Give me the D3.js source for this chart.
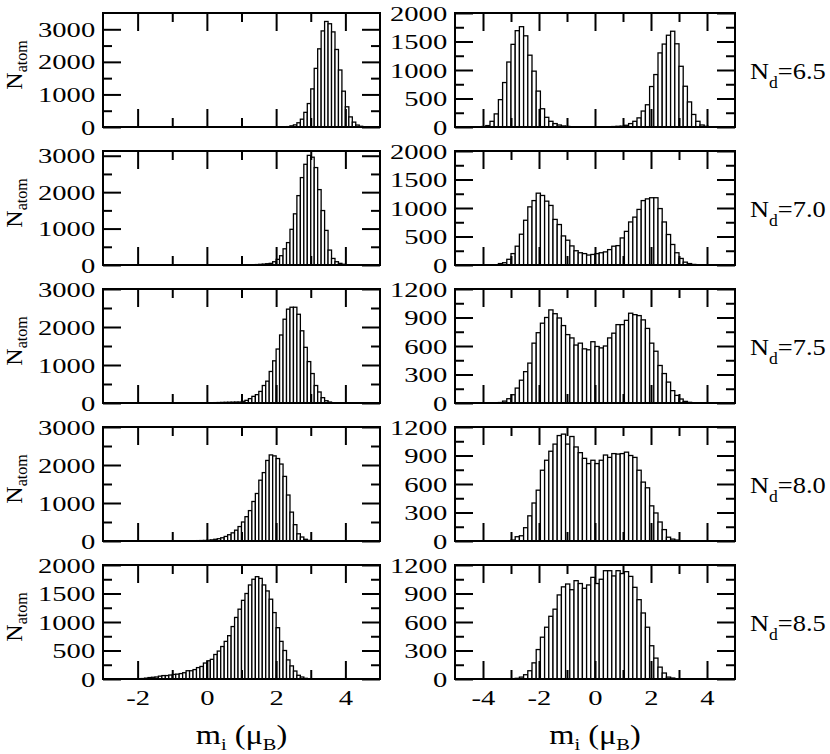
<!DOCTYPE html>
<html>
<head>
<meta charset="utf-8">
<script src="https://cdn.jsdelivr.net/npm/d3@7"></script>
<style>
  body { margin: 0; background: #fff; }
  text { font-family: "Liberation Serif", "Times New Roman", serif; }
</style>
</head>
<body>
<svg id="chart" width="830" height="754"></svg>
<script>
// N_d value of each row
var ndLabels = ["6.5", "7.0", "7.5", "8.0", "8.5"];

// left column: bin width 0.1, first bin edge of each row
var leftBin = 0.1;
var leftStart = [2.2, 1.2, -0.5, -0.5, -2.1];
var left65 = [5,12,35,65,130,240,450,720,1170,1800,2400,2950,3240,3170,2920,2380,1750,1100,620,310,150,60,22,8];
var left70 = [5,8,12,18,25,35,45,90,155,255,445,615,980,1405,1905,2400,2765,3010,2960,2675,2070,1495,950,410,180,90,45,20,8];
var left75 = [3,3,4,5,5,6,8,10,12,15,18,20,22,25,25,45,70,115,175,220,305,460,575,830,1110,1420,1790,2205,2470,2520,2520,2335,1900,1465,1090,775,460,290,140,60,25,8];
var left80 = [5,8,10,12,15,20,30,45,60,85,120,165,215,285,380,500,640,800,1040,1250,1600,1800,2120,2265,2240,2170,2025,1700,1210,760,430,190,105,45,17,5];
var left85 = [5,5,8,15,25,30,35,50,60,60,70,80,85,95,110,145,145,165,200,220,280,320,345,430,490,570,660,760,920,1080,1225,1380,1500,1650,1750,1795,1765,1650,1545,1400,1165,900,660,500,335,230,140,65,35,12];

// right column: bin width 0.15, first edge -4.5
var rightBin = 0.15;
var rightStart = -4.5;
var right65 = [0,0,0,8,25,100,230,480,780,1140,
               1450,1690,1760,1600,1260,980,630,320,170,100,
               60,35,18,10,6,4,3,2,2,2,
               2,3,4,6,8,12,15,30,60,100,
               160,280,390,710,920,1300,1455,1610,1680,1460,
               1065,715,440,220,100,35,12,4,0,0];
var right70 = [0,0,0,0,0,2,5,25,40,100,
               200,330,540,785,1020,1130,1260,1220,1120,1045,
               800,710,510,435,335,250,215,200,175,185,
               200,215,230,270,330,340,475,590,755,840,
               975,1130,1160,1180,1180,990,755,535,360,215,
               115,50,25,10,3,0,0,0,0,0];
var right75 = [0,0,0,0,0,0,0,5,20,45,
               87,157,240,330,420,630,740,840,900,980,
               940,895,815,720,685,610,630,570,560,645,
               595,580,600,685,735,825,825,870,945,930,
               920,875,785,630,545,395,310,220,130,80,
               42,17,7,0,0,0,0,0,0,0];
var right80 = [0,0,0,0,0,0,0,0,0,0,
               10,45,55,140,265,400,535,745,850,945,
               1020,1110,1125,1020,1100,990,930,870,815,850,
               815,850,905,880,920,915,920,935,900,880,
               745,620,560,370,295,200,120,40,20,10,
               0,0,0,0,0,0,0,0,0,0];
var right85 = [0,0,0,0,0,0,0,0,0,0,
               0,7,20,45,87,170,310,440,545,660,
               735,885,970,1000,940,1035,1005,955,990,1070,
               1005,1050,1140,1140,1085,1140,1110,1130,1080,965,
               835,695,545,350,220,125,63,20,10,0,
               0,0,0,0,0,0,0,0,0,0];

var leftCounts = [left65, left70, left75, left80, left85];
var rightCounts = [right65, right70, right75, right80, right85];

// axis ranges and tick steps
var leftX = [-3, 5], rightX = [-5, 5];
var leftXTicks = [-2, 0, 2, 4], leftXMinor = [-1, 1, 3];
var rightXTicks = [-4, -2, 0, 2, 4], rightXMinor = [-3, -1, 1, 3];
var leftYMax = [3500, 3130, 3000, 3000, 2000];
var leftYStep = [1000, 1000, 1000, 1000, 500];
var rightYMax = [2000, 2000, 1200, 1200, 1200];
var rightYStep = [500, 500, 300, 300, 300];

var svg = d3.select("#chart");

var rowTop = 13, rowGap = 138, rowH = 114;
var cols = [{x0: 103, x1: 380}, {x0: 455, x1: 735}];
var wide = 1.3; // the digits in the picture are wider than Times

function ticksUpTo(max, step) {
    var out = [];
    for (var v = 0; v <= max + 1e-6; v += step) out.push(v);
    return out;
}

function styleAxis(g) {
    g.select(".domain").remove();
    g.selectAll("line").attr("stroke", "#000").attr("stroke-width", 2);
    g.selectAll("text").attr("font-family", "Liberation Serif, serif")
        .attr("font-size", 22).attr("fill", "#000")
        .attr("transform", "scale(" + wide + ",1)");
}

function drawPanel(row, col) {
    var c = cols[col];
    var top = rowTop + row * rowGap, bottom = top + rowH;
    var counts = col == 0 ? leftCounts[row] : rightCounts[row];
    var start = col == 0 ? leftStart[row] : rightStart;
    var bw = col == 0 ? leftBin : rightBin;
    var ymax = col == 0 ? leftYMax[row] : rightYMax[row];
    var ystep = col == 0 ? leftYStep[row] : rightYStep[row];

    var x = d3.scaleLinear().domain(col == 0 ? leftX : rightX).range([c.x0, c.x1]);
    var y = d3.scaleLinear().domain([0, ymax]).range([bottom, top]);

    var bins = counts.map(function(n, i) {
        return {x0: start + i * bw, x1: start + (i + 1) * bw, n: n};
    }).filter(function(d) { return d.n > 0; });

    var g = svg.append("g");

    g.selectAll("rect.bar")
        .data(bins)
        .enter()
        .append("rect")
        .attr("class", "bar")
        .attr("x", function(d) { return x(d.x0); })
        .attr("y", function(d) { return y(d.n); })
        .attr("width", function(d) { return x(d.x1) - x(d.x0); })
        .attr("height", function(d) { return y(0) - y(d.n); })
        .attr("fill", "#fff")
        .attr("stroke", "#000")
        .attr("stroke-width", 1.3);

    var majX = col == 0 ? leftXTicks : rightXTicks;
    var minX = col == 0 ? leftXMinor : rightXMinor;
    var majY = ticksUpTo(ymax, ystep);
    var minY = majY.map(function(v) { return v + ystep / 2; })
        .filter(function(v) { return v < ymax; });

    // inward ticks on all four sides
    var bottomAxis = d3.axisBottom(x).tickValues(majX).tickSize(-18).tickPadding(10)
        .tickFormat(row == 4 ? function(d) { return String(d); } : "");
    g.append("g").attr("transform", "translate(0," + bottom + ")").call(bottomAxis).call(styleAxis);
    g.append("g").attr("transform", "translate(0," + bottom + ")")
        .call(d3.axisBottom(x).tickValues(minX).tickSize(-9).tickFormat("")).call(styleAxis);
    g.append("g").attr("transform", "translate(0," + top + ")")
        .call(d3.axisTop(x).tickValues(majX).tickSize(-18).tickFormat("")).call(styleAxis);
    g.append("g").attr("transform", "translate(0," + top + ")")
        .call(d3.axisTop(x).tickValues(minX).tickSize(-9).tickFormat("")).call(styleAxis);

    g.append("g").attr("transform", "translate(" + c.x0 + ",0)")
        .call(d3.axisLeft(y).tickValues(majY).tickSize(-18).tickPadding(6)
            .tickFormat(function(d) { return String(d); }))
        .call(styleAxis);
    g.append("g").attr("transform", "translate(" + c.x0 + ",0)")
        .call(d3.axisLeft(y).tickValues(minY).tickSize(-9).tickFormat("")).call(styleAxis);
    g.append("g").attr("transform", "translate(" + c.x1 + ",0)")
        .call(d3.axisRight(y).tickValues(majY).tickSize(-18).tickFormat("")).call(styleAxis);
    g.append("g").attr("transform", "translate(" + c.x1 + ",0)")
        .call(d3.axisRight(y).tickValues(minY).tickSize(-9).tickFormat("")).call(styleAxis);

    g.append("rect")
        .attr("x", c.x0).attr("y", top)
        .attr("width", c.x1 - c.x0).attr("height", rowH)
        .attr("fill", "none").attr("stroke", "#000").attr("stroke-width", 2);

    if (col == 0) {
        var lab = svg.append("text")
            .attr("transform", "translate(22," + (top + rowH / 2 - 5) + ") rotate(-90)")
            .attr("text-anchor", "middle")
            .attr("font-size", 24);
        lab.append("tspan").text("N");
        lab.append("tspan").attr("dy", 5).attr("font-size", 16).text("atom");
    } else {
        var nd = svg.append("text")
            .attr("transform", "translate(750," + (top + rowH / 2 + 9) + ") scale(1.1,1)")
            .attr("font-size", 24);
        nd.append("tspan").text("N");
        nd.append("tspan").attr("dy", 9).attr("font-size", 16).text("d");
        nd.append("tspan").attr("dy", -9).text("=" + ndLabels[row]);
    }
}

for (var r = 0; r < 5; r++) {
    drawPanel(r, 0);
    drawPanel(r, 1);
}

// x axis titles
cols.forEach(function(c) {
    var t = svg.append("text")
        .attr("transform", "translate(" + ((c.x0 + c.x1) / 2) + ",744) scale(1.2,1)")
        .attr("text-anchor", "middle")
        .attr("font-size", 27);
    t.append("tspan").text("m");
    t.append("tspan").attr("dy", 6).attr("font-size", 17).text("i");
    t.append("tspan").attr("dy", -6).text(" (\u03bc");
    t.append("tspan").attr("dy", 6).attr("font-size", 17).text("B");
    t.append("tspan").attr("dy", -6).text(")");
});
</script>
</body>
</html>
